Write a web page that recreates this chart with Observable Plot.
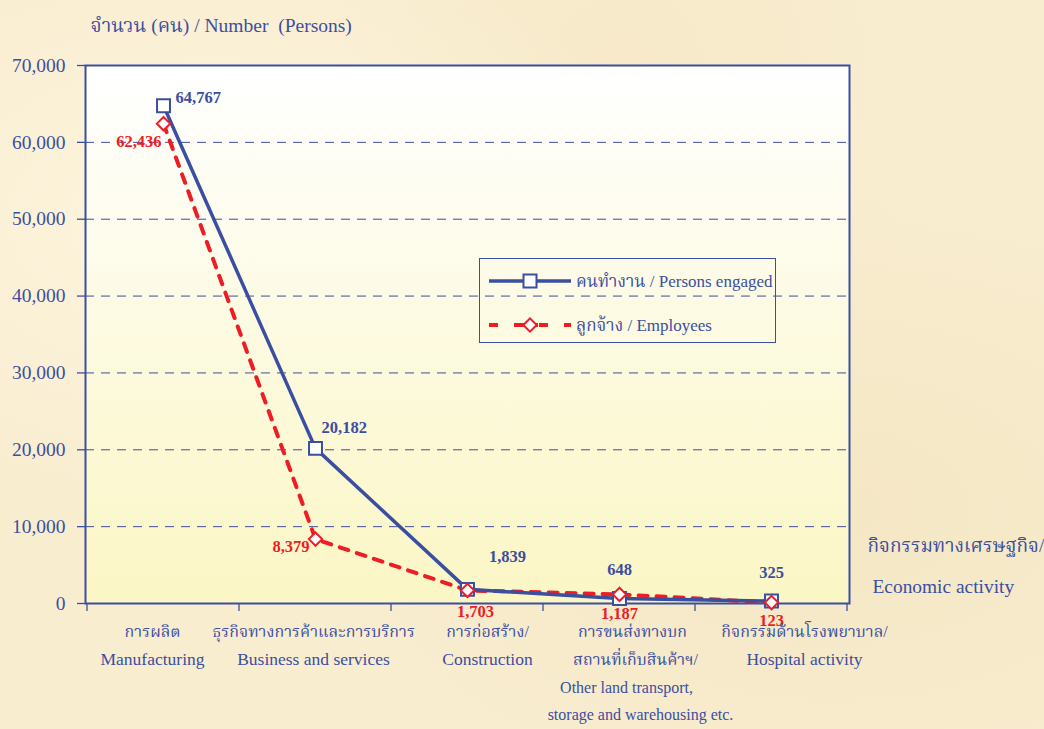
<!DOCTYPE html>
<html><head><meta charset="utf-8">
<script src="https://cdn.jsdelivr.net/npm/d3@7"></script>
<script src="https://cdn.jsdelivr.net/npm/@observablehq/plot@0.6"></script>
<style>
html,body{margin:0;padding:0;}
body{width:1044px;height:729px;overflow:hidden;position:relative;
  background:#f9edd0;
  background-image:
    radial-gradient(ellipse at 20% 30%, rgba(255,250,230,0.6), rgba(255,250,230,0) 40%),
    radial-gradient(ellipse at 80% 70%, rgba(240,225,185,0.5), rgba(240,225,185,0) 45%),
    radial-gradient(ellipse at 60% 10%, rgba(245,230,195,0.5), rgba(245,230,195,0) 35%);
  font-family:"Liberation Serif","Times New Roman","Noto Serif Thai","Noto Sans Thai",serif;}
#chart{position:absolute;left:0;top:0;}
#legend{position:absolute;left:479px;top:258px;width:297px;height:85px;border:1px solid #3b4fa0;box-sizing:border-box;}
#legend svg{position:absolute;left:0;top:0;}
</style>
</head><body>
<div id="chart"></div>
<div id="legend"></div>
<script>
// ---- data ----
const categories = ["Manufacturing", "Business and services", "Construction", "Other land transport", "Hospital activity"];
const labelLine1 = ["การผลิต", "ธุรกิจทางการค้าและการบริการ", "การก่อสร้าง/", "การขนส่งทางบก", "กิจกรรมด้านโรงพยาบาล/"];
const labelLine2 = ["Manufacturing", "Business and services", "Construction", "สถานที่เก็บสินค้าฯ/", "Hospital activity"];
const labelLine3 = ["", "", "", "Other land transport,", ""];
const labelLine4 = ["", "", "", "storage and warehousing etc.", ""];
const personsEngaged = [64767, 20182, 1839, 648, 325];
const employees = [62436, 8379, 1703, 1187, 123];
const yTicks = [0, 10000, 20000, 30000, 40000, 50000, 60000, 70000];
const seriesNames = ["คนทำงาน / Persons engaged", "ลูกจ้าง / Employees"];
const yTitle = "จำนวน (คน) / Number  (Persons)";
const xTitle1 = "กิจกรรมทางเศรษฐกิจ/";
const xTitle2 = "Economic activity";

// ---- styles ----
const BLUE = "#3b4fa0";
const RED = "#ee1c25";
const FONT = "'Liberation Serif','Times New Roman','Noto Serif Thai','Noto Sans Thai',serif";

const rows = categories.map((c, i) => ({
  category: c, persons: personsEngaged[i], employees: employees[i],
  l1: labelLine1[i], l2: labelLine2[i], l3: labelLine3[i], l4: labelLine4[i]
}));
const fmt = d3.format(",");

// label placement (dx, dy, anchor) per point
const personLabelPos = [[12, -8, "start"], [6, -21, "start"], [40, -33, "middle"], [0, -29, "middle"], [0, -28, "middle"]];
const employeeLabelPos = [[-2, 18, "end"], [-6, 8, "end"], [8, 21, "middle"], [0, 19, "middle"], [0, 18, "middle"]];
// horizontal shift of category label text boxes
const catLabelShift = [-11, -2, 20, 13, 33];
const isThai = s => /[\u0E00-\u0E7F]/.test(s);

const defsMark = () => {
  const defs = d3.create("svg:defs");
  const g = defs.append("linearGradient").attr("id", "plotBg").attr("x1", 0).attr("y1", 0).attr("x2", 0).attr("y2", 1);
  g.append("stop").attr("offset", "0%").attr("stop-color", "#ffffff");
  g.append("stop").attr("offset", "100%").attr("stop-color", "#fbf6c4");
  return defs.node();
};

const xBoundaryTicks = (index, scales, values, dims) => {
  const pos = categories.map(c => scales.x(c));
  const step = pos[1] - pos[0];
  const y0 = dims.height - dims.marginBottom;
  const g = d3.create("svg:g").attr("stroke", BLUE).attr("stroke-width", 1.3);
  for (let k = 0; k <= categories.length; k++) {
    const x = pos[0] - step / 2 + k * step;
    g.append("line").attr("x1", x).attr("x2", x).attr("y1", y0).attr("y2", y0 + 8);
  }
  return g.node();
};

const catText = (key, dy, size, extraShift) => rows.map((r, i) => r[key] ? Plot.text([r], {
  x: "category", text: key, frameAnchor: "bottom", dy, dx: catLabelShift[i] + (extraShift ? extraShift[i] : 0),
  fill: BLUE, fontSize: isThai(r[key]) ? 16 : size
}) : null).filter(Boolean);

const marks = [
  defsMark,
  Plot.frame({fill: "url(#plotBg)"}),
  Plot.gridY(yTicks.filter(d => d > 0 && d < 70000), {stroke: BLUE, strokeOpacity: 1, strokeWidth: 1, strokeDasharray: "9,7"}),
  Plot.axisY(yTicks, {anchor: "left", tickFormat: fmt, tickSize: 8, tickPadding: 12, fontSize: 19.5, fill: BLUE, stroke: BLUE, strokeWidth: 1.3, label: null}),
  xBoundaryTicks,
  Plot.frame({stroke: BLUE, strokeWidth: 2}),
  Plot.line(rows, {x: "category", y: "employees", stroke: RED, strokeWidth: 4, strokeDasharray: "9,9"}),
  Plot.line(rows, {x: "category", y: "persons", stroke: BLUE, strokeWidth: 3.5}),
  Plot.dot(rows, {x: "category", y: "persons", symbol: "square", r: 7.3, fill: "white", stroke: BLUE, strokeWidth: 2}),
  Plot.dot(rows, {x: "category", y: "employees", symbol: "diamond2", r: 6, fill: "white", stroke: RED, strokeWidth: 2}),
  ...rows.map((r, i) => Plot.text([r], {x: "category", y: "persons", text: d => fmt(d.persons), dx: personLabelPos[i][0], dy: personLabelPos[i][1], textAnchor: personLabelPos[i][2], fill: BLUE, fontWeight: "bold", fontSize: 16.5})),
  ...rows.map((r, i) => Plot.text([r], {x: "category", y: "employees", text: d => fmt(d.employees), dx: employeeLabelPos[i][0], dy: employeeLabelPos[i][1], textAnchor: employeeLabelPos[i][2], fill: RED, fontWeight: "bold", fontSize: 16.5})),
  ...catText("l1", 33, 16),
  ...catText("l2", 61, 17.5, [0, 0, 0, 3, 0]),
  ...catText("l3", 89, 16, [0, 0, 0, -6, 0]),
  ...catText("l4", 116, 16, [0, 0, 0, 8, 0]),
  Plot.text([yTitle], {frameAnchor: "top-left", dx: 5, dy: -47, textAnchor: "start", fill: BLUE, fontSize: 19.5}),
  Plot.text([xTitle1], {frameAnchor: "bottom-right", dx: 18, dy: -52, textAnchor: "start", fill: BLUE, fontSize: 19}),
  Plot.text([xTitle2], {frameAnchor: "bottom-right", dx: 23, dy: -11, textAnchor: "start", fill: BLUE, fontSize: 19.4})
];

const chart = Plot.plot({
  width: 1044, height: 729,
  marginLeft: 85, marginRight: 195, marginTop: 65, marginBottom: 126,
  style: {background: "transparent", fontFamily: FONT, overflow: "visible"},
  x: {type: "point", domain: categories, padding: 0.5, axis: null},
  y: {domain: [0, 70000], axis: null},
  marks
});
document.getElementById("chart").append(chart);

// ---- legend ----
const lg = d3.select("#legend").append("svg").attr("width", 297).attr("height", 85).style("font-family", FONT);
// row 1
lg.append("line").attr("x1", 9).attr("x2", 91).attr("y1", 22).attr("y2", 22).attr("stroke", BLUE).attr("stroke-width", 3.5);
lg.append("rect").attr("x", 50 - 6.5).attr("y", 22 - 6.5).attr("width", 13).attr("height", 13).attr("fill", "white").attr("stroke", BLUE).attr("stroke-width", 2);
lg.append("text").attr("x", 96).attr("y", 22).attr("dy", "0.35em").attr("fill", BLUE).attr("font-size", 17).text(seriesNames[0]);
// row 2
lg.append("line").attr("x1", 9).attr("x2", 91).attr("y1", 66).attr("y2", 66).attr("stroke", RED).attr("stroke-width", 4).attr("stroke-dasharray", "9,16");
lg.append("line").attr("x1", 43).attr("x2", 58).attr("y1", 66).attr("y2", 66).attr("stroke", RED).attr("stroke-width", 4);
lg.append("path").attr("transform", "translate(50,66)").attr("d", d3.symbol(d3.symbolDiamond2, Math.PI * 36)()).attr("fill", "white").attr("stroke", RED).attr("stroke-width", 2);
lg.append("text").attr("x", 96).attr("y", 66).attr("dy", "0.35em").attr("fill", BLUE).attr("font-size", 17).text(seriesNames[1]);
</script>
</body></html>
